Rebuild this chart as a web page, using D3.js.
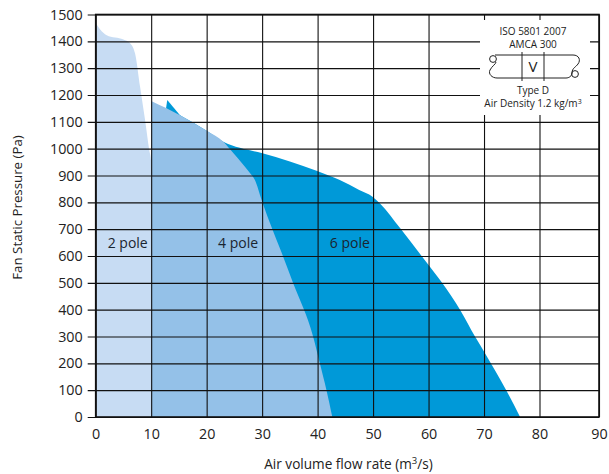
<!DOCTYPE html>
<html><head><meta charset="utf-8">
<script src="https://cdn.jsdelivr.net/npm/d3@7"></script>
<style>html,body{margin:0;padding:0;background:#fff}svg{display:block}text{font-family:"Open Sans",sans-serif;fill:#222}</style>
</head><body><svg id="c" width="609" height="474"></svg>
<script>
const xTicks=[0,10,20,30,40,50,60,70,80,90];
const yTicks=d3.range(0,1501,100);
const pole2=[[0,1468],[0.77,1445],[1.98,1423],[5,1407],[6.2,1393],[7.1,1355],[8,1231],[8.9,1107],[9.65,995],[10,950],[10.4,648],[10.7,447],[11.6,175],[12,0]];
const pole4=[[10,1178],[15.2,1125],[20,1067],[23,1026],[24.8,984],[27.8,909],[28.7,883],[29.9,809],[31.9,697],[33.2,629],[35.6,498],[39.2,299],[40.4,200],[41.6,100],[42.65,0]];
const pole6Spike=[[12.7,1153],[12.9,1181],[15.2,1125]];
const pole6=[[15.2,1125],[20,1067],[23,1026],[26,1003],[29.9,984],[35,952],[39.8,918],[44,883],[47.5,846],[49.9,821],[51.25,796],[54.9,703],[60,566],[62.5,498],[65.7,399],[68.4,299],[70.2,237],[74,100],[76.5,0]];
const areaLabels=[["2 pole",2.16],["4 pole",22.05],["6 pole",42.2]];
const colors={p2:"#c7dcf3",p4:"#94c1e8",p6:"#0099d8"};
const svg=d3.select("#c");
const L=95.7,R=599,T=14.5,B=417;
// the printed grid has a slightly wider last interval
const x=d3.scaleLinear().domain([0,80,90]).range([L,539.5,R]);
const y=d3.scaleLinear().domain([0,1500]).range([B,T]);
const area=d3.area().curve(d3.curveMonotoneX).x(d=>x(d[0])).y0(y(0)).y1(d=>y(d[1]));
const sharpArea=d3.area().x(d=>x(d[0])).y0(y(0)).y1(d=>y(d[1]));
svg.append("path").attr("d",area(pole2)).attr("fill",colors.p2);
svg.append("path").attr("d",sharpArea(pole6Spike)).attr("fill",colors.p6);
svg.append("path").attr("d",area(pole6)).attr("fill",colors.p6);
svg.append("path").attr("d",area(pole4)).attr("fill",colors.p4);
// grid + axes
const gy=svg.append("g").attr("transform",`translate(${L},0)`).call(d3.axisLeft(y).tickValues(yTicks).tickFormat(d3.format("d")).tickSize(0).tickPadding(13));
gy.select(".domain").remove();
gy.selectAll(".tick line").attr("x1",-8).attr("x2",R-L).attr("stroke","#111").attr("stroke-width",1.1);
gy.selectAll("text").style("font-size","14.3px").attr("fill","#222");
const gx=svg.append("g").attr("transform",`translate(0,${B})`).call(d3.axisBottom(x).tickValues(xTicks).tickFormat(d3.format("d")).tickSize(0).tickPadding(12));
gx.select(".domain").remove();
gx.selectAll(".tick line").attr("y1",0).attr("y2",T-B).attr("stroke","#111").attr("stroke-width",1.1);
gx.selectAll("text").style("font-size","14.3px").attr("fill","#222");
// annotation box
svg.append("rect").attr("x",480).attr("y",20).attr("width",110).attr("height",95).attr("fill","#fff");
svg.append("rect").attr("x",L).attr("y",T).attr("width",R-L).attr("height",B-T).attr("fill","none").attr("stroke","#111").attr("stroke-width",1.6);
const note=svg.append("g").attr("text-anchor","middle").style("font-size","10px");
note.append("text").attr("x",533).attr("y",35).text("ISO 5801 2007");
note.append("text").attr("x",533).attr("y",48).text("AMCA 300");
note.append("text").attr("x",533).attr("y",94).text("Type D");
const ad=note.append("text").attr("x",533).attr("y",107);
ad.append("tspan").text("Air Density 1.2 kg/m");
ad.append("tspan").attr("dy",-3).style("font-size","7px").text("3");
const v=svg.append("g").attr("fill","none").attr("stroke","#222").attr("stroke-width",1);
v.append("path").attr("d","M495,55H573C579,55 581,60 578,64C576,67 572,68 572,73C572,76 569,78 566,78H497C492,78 488,74 490,70C492,66 496,64 496,62");
v.append("circle").attr("cx",493).attr("cy",59).attr("r",3.4);
v.append("circle").attr("cx",575).attr("cy",74).attr("r",3.4);
v.append("path").attr("d","M522,52V81M544,52V81");
svg.append("text").attr("x",533).attr("y",72).attr("text-anchor","middle").style("font-size","15px").text("V");
// region labels
svg.selectAll(".pl").data(areaLabels).join("text").attr("class","pl")
 .attr("x",d=>x(d[1])).attr("y",248).style("font-size","14px").style("fill","#1a2530").text(d=>d[0]);
// axis titles
const xt=svg.append("text").attr("x",348.5).attr("y",468.5).attr("text-anchor","middle").style("font-size","13.6px");
xt.append("tspan").text("Air volume flow rate (m");
xt.append("tspan").attr("dy",-5).style("font-size","9.5px").text("3");
xt.append("tspan").attr("dy",5).text("/s)");
svg.append("text").attr("transform","translate(22,207.5) rotate(-90)").attr("text-anchor","middle").style("font-size","13.3px").text("Fan Static Pressure (Pa)");
</script></body></html>
